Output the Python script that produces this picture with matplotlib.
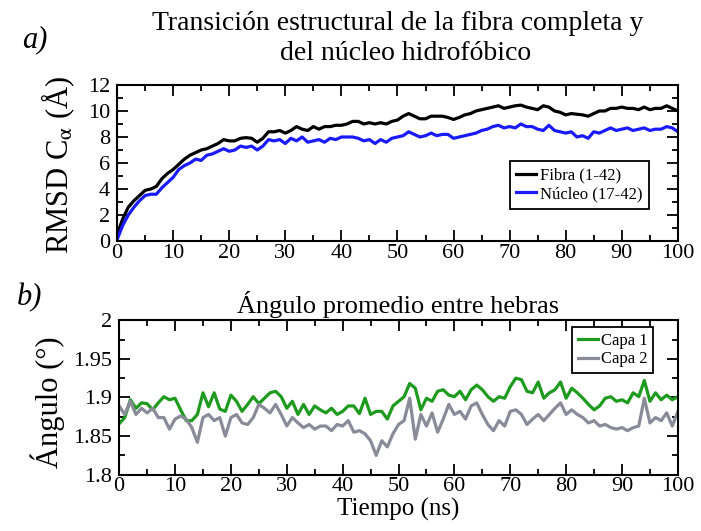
import matplotlib
matplotlib.use("Agg")
import matplotlib.pyplot as plt
from matplotlib.ticker import MultipleLocator
import numpy as np

plt.rcParams['font.family'] = ['Liberation Serif', 'DejaVu Serif']
plt.rcParams['mathtext.fontset'] = 'stix'

# tiempo en ns (un punto por ns)
tiempo = np.arange(0, 101)

# RMSD C-alpha (A)
rmsd_fibra = [0.5, 1.7, 2.6, 3.1, 3.5, 3.9, 4.0, 4.2, 4.8, 5.2,
              5.5, 5.9, 6.3, 6.6, 6.8, 7.0, 7.1, 7.3, 7.5, 7.8,
              7.7, 7.7, 7.9, 7.95, 7.9, 7.6, 7.9, 8.4, 8.4, 8.5,
              8.3, 8.5, 8.8, 8.6, 8.5, 8.8, 8.6, 8.8, 8.8, 8.9,
              8.9, 9.0, 9.2, 9.2, 9.0, 9.1, 9.0, 9.1, 9.0, 9.2,
              9.3, 9.6, 9.8, 9.6, 9.4, 9.4, 9.6, 9.6, 9.6, 9.5,
              9.35, 9.5, 9.7, 9.8, 10.0, 10.1, 10.2, 10.3, 10.4, 10.2,
              10.3, 10.4, 10.45, 10.3, 10.2, 10.1, 10.4, 10.3, 10.0, 9.9,
              9.7, 9.8, 9.75, 9.7, 9.6, 9.8, 10.0, 10.0, 10.2, 10.2,
              10.3, 10.2, 10.2, 10.1, 10.3, 10.1, 10.2, 10.2, 10.4, 10.2,
              10.0]
rmsd_nucleo = [0.1, 1.2, 2.0, 2.6, 3.1, 3.5, 3.6, 3.6, 4.1, 4.5,
               4.9, 5.5, 5.8, 6.0, 6.3, 6.2, 6.6, 6.7, 6.9, 7.1,
               6.9, 7.0, 7.3, 7.2, 7.3, 7.0, 7.3, 7.8, 7.7, 7.8,
               7.5, 7.9, 7.7, 8.0, 7.6, 7.7, 7.8, 7.6, 7.9, 7.8,
               8.0, 8.0, 8.0, 7.9, 7.7, 7.8, 7.5, 7.8, 7.6, 7.9,
               8.0, 8.1, 8.4, 8.2, 8.0, 8.1, 8.3, 8.1, 8.2, 8.2,
               7.9, 8.0, 8.1, 8.2, 8.3, 8.5, 8.6, 8.8, 8.9, 8.7,
               8.8, 8.7, 9.0, 8.8, 8.8, 8.6, 8.5, 8.9, 8.5, 8.4,
               8.3, 8.4, 8.0, 8.1, 7.9, 8.4, 8.3, 8.5, 8.7, 8.5,
               8.6, 8.7, 8.5, 8.6, 8.7, 8.5, 8.6, 8.6, 8.8, 8.7,
               8.4]

# angulo promedio entre hebras
capa1 = [1.866, 1.874, 1.897, 1.886, 1.893, 1.892, 1.884, 1.893, 1.901, 1.897,
         1.899, 1.884, 1.870, 1.870, 1.878, 1.906, 1.888, 1.906, 1.885, 1.882,
         1.903, 1.895, 1.882, 1.891, 1.901, 1.892, 1.899, 1.906, 1.908, 1.901,
         1.886, 1.895, 1.878, 1.891, 1.878, 1.889, 1.884, 1.880, 1.886, 1.878,
         1.882, 1.889, 1.889, 1.879, 1.899, 1.878, 1.882, 1.882, 1.872, 1.889,
         1.895, 1.901, 1.918, 1.912, 1.884, 1.899, 1.895, 1.908, 1.910, 1.903,
         1.901, 1.908, 1.897, 1.910, 1.916, 1.910, 1.901, 1.895, 1.901, 1.899,
         1.914, 1.925, 1.923, 1.908, 1.906, 1.920, 1.899, 1.906, 1.910, 1.920,
         1.899, 1.912, 1.906, 1.899, 1.891, 1.884, 1.889, 1.899, 1.901, 1.895,
         1.897, 1.893, 1.906, 1.901, 1.922, 1.895, 1.906, 1.897, 1.903, 1.897,
         1.901]
capa2 = [1.889, 1.878, 1.895, 1.878, 1.886, 1.880, 1.886, 1.874, 1.874, 1.859,
         1.872, 1.876, 1.872, 1.861, 1.842, 1.874, 1.878, 1.870, 1.874, 1.850,
         1.874, 1.878, 1.867, 1.865, 1.874, 1.891, 1.886, 1.880, 1.891, 1.878,
         1.863, 1.874, 1.867, 1.861, 1.865, 1.859, 1.863, 1.863, 1.857, 1.865,
         1.863, 1.870, 1.855, 1.857, 1.853, 1.844, 1.825, 1.844, 1.836, 1.853,
         1.865, 1.870, 1.899, 1.846, 1.878, 1.863, 1.880, 1.855, 1.872, 1.891,
         1.878, 1.882, 1.872, 1.889, 1.893, 1.878, 1.865, 1.857, 1.870, 1.863,
         1.882, 1.884, 1.878, 1.865, 1.872, 1.878, 1.870, 1.878, 1.886, 1.893,
         1.878, 1.884, 1.878, 1.874, 1.867, 1.870, 1.863, 1.865, 1.861, 1.859,
         1.861, 1.857, 1.861, 1.863, 1.899, 1.867, 1.874, 1.870, 1.880, 1.863,
         1.882]

fig = plt.figure(figsize=(7.01, 5.31), dpi=100)
ax1 = fig.add_axes([0.167, 0.546, 0.800, 0.294])
ax2 = fig.add_axes([0.170, 0.106, 0.797, 0.291])


def estilo(ax):
    for s in ax.spines.values():
        s.set_linewidth(1.5)
    ax.tick_params(which='both', direction='in', top=True, right=True,
                   labelsize=16, width=1.3)
    ax.tick_params(axis='x', pad=2)
    ax.tick_params(axis='y', pad=5)
    ax.tick_params(which='major', length=8)
    ax.tick_params(which='minor', length=4)
    ax.set_xlim(0, 100)
    ax.xaxis.set_major_locator(MultipleLocator(10))
    ax.xaxis.set_minor_locator(MultipleLocator(5))


# panel a
ax1.plot(tiempo, rmsd_fibra, color='black', lw=2.3, label='Fibra (1-42)')
ax1.plot(tiempo, rmsd_nucleo, color='#1a1aff', lw=2.3, label='Núcleo (17-42)')
estilo(ax1)
ax1.set_ylim(0, 12)
ax1.yaxis.set_major_locator(MultipleLocator(2))
ax1.yaxis.set_minor_locator(MultipleLocator(1))
ax1.set_ylabel('RMSD C$_{\\mathrm{α}}$ (Å)', fontsize=22)
ax1.yaxis.set_label_coords(-0.071, 0.487)
ax1.legend(loc='upper left', bbox_to_anchor=(0.70, 0.513), borderaxespad=0,
           fontsize=12, handlelength=1.2, handletextpad=0.2, fancybox=False,
           edgecolor='black', framealpha=1, borderpad=0.4, labelspacing=0.15)
ax1.get_legend().get_frame().set_linewidth(1.3)

# panel b
ax2.plot(tiempo, capa1, color='#1e9b1e', lw=2.3, label='Capa 1')
ax2.plot(tiempo, capa2, color='#8a8a98', lw=2.3, label='Capa 2')
estilo(ax2)
ax2.set_ylim(1.8, 2.0)
ax2.yaxis.set_major_locator(MultipleLocator(0.05))
ax2.yaxis.set_minor_locator(MultipleLocator(0.025))
ax2.set_yticks([1.8, 1.85, 1.9, 1.95, 2.0], ['1.8', '1.85', '1.9', '1.95', '2'])
ax2.set_ylabel('Ángulo (°)', fontsize=22)
ax2.yaxis.set_label_coords(-0.097, 0.468)
ax2.set_xlabel('Tiempo (ns)', fontsize=18, labelpad=1)
ax2.set_title('Ángulo promedio entre hebras', fontsize=19, pad=5)
ax2.legend(loc='upper left', bbox_to_anchor=(0.81, 0.955), borderaxespad=0,
           fontsize=12, handlelength=1.2, handletextpad=0.2, fancybox=False,
           edgecolor='black', framealpha=1, borderpad=0.35, labelspacing=0.15)
ax2.get_legend().get_frame().set_linewidth(1.3)

fig.text(0.568, 1 - 23 / 531, 'Transición estructural de la fibra completa y',
         ha='center', va='center', fontsize=20)
fig.text(0.578, 1 - 54 / 531, 'del núcleo hidrofóbico',
         ha='center', va='center', fontsize=20)
fig.text(35 / 701, 1 - 40 / 531, 'a)', style='italic', fontsize=22,
         ha='center', va='center')
fig.text(30 / 701, 1 - 298 / 531, 'b)', style='italic', fontsize=22,
         ha='center', va='center')

fig.savefig('out.png', dpi=100)
